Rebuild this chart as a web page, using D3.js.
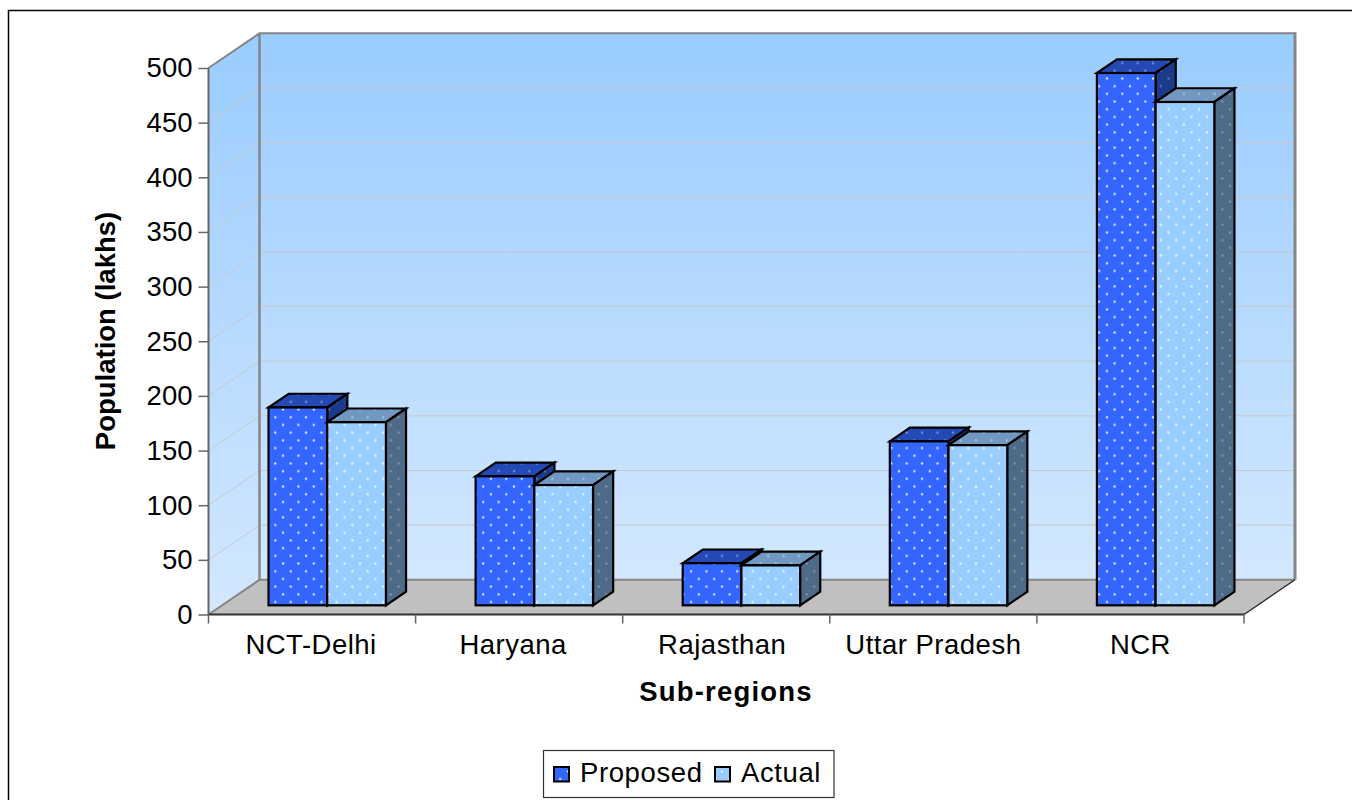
<!DOCTYPE html>
<html><head><meta charset="utf-8">
<script src="https://cdnjs.cloudflare.com/ajax/libs/d3/7.8.5/d3.min.js"></script>
<style>html,body{margin:0;padding:0;background:#fff;overflow:hidden}svg{display:block}text{font-family:"Liberation Sans",Arial,sans-serif;fill:#000}</style>
</head><body><div id="c"></div>
<script>
const categories=["NCT-Delhi","Haryana","Rajasthan","Uttar Pradesh","NCR"];
const proposed=[181,118,38.5,150,487];
const actual=[167.5,110,36.5,146.5,460.5];
const yTicks=[0,50,100,150,200,250,300,350,400,450,500];
const seriesNames=["Proposed","Actual"];
const labelShift=[-1,-6,-4,0,0];

const W=1352,H=800;
const svg=d3.select("#c").append("svg").attr("width",W).attr("height",H);
const defs=svg.append("defs");
const x=d3.scaleBand().domain(categories).range([208.5,1244]);
const y=d3.scaleLinear().domain([0,500]).range([614.5,68]);
const dep=[51,-34.7];
const P=(px,py,t)=>[px+dep[0]*t,py+dep[1]*t];
const poly=(pts)=>pts.map(p=>p.join(",")).join(" ");

function grad(id,c1,c2){const g=defs.append("linearGradient").attr("id",id).attr("x1",0).attr("y1",0).attr("x2",0).attr("y2",1);
 g.append("stop").attr("offset",0).attr("stop-color",c1);g.append("stop").attr("offset",1).attr("stop-color",c2);}
grad("wall","#99ccff","#d3e8ff");
function dots(id,color,op){const p=defs.append("pattern").attr("id",id).attr("patternUnits","userSpaceOnUse").attr("width",15.4).attr("height",15.4);
 p.append("rect").attr("width",15.4).attr("height",15.4).attr("fill",color);
 [[13.5,1.5],[5.8,9.2]].forEach(d=>p.append("circle").attr("cx",d[0]).attr("cy",d[1]).attr("r",1.15).attr("fill","#fff").attr("opacity",op));}
dots("pFront","#3366ff",.85);dots("aFront","#99ccff",.8);
dots("pTop","#2449b5",.4);dots("aTop","#7198c0",.4);
dots("pSide","#1c3a8c",.3);dots("aSide","#4d6a88",.3);

// frame: top and left rules only
svg.append("path").attr("d",`M8.5,${H}V10.5H${W}`).attr("fill","none").attr("stroke","#000").attr("stroke-width",1.5);

const x0=x.range()[0],x1=x.range()[1],y0=y(0),yT=y(500);
svg.append("polygon").attr("points",poly([[x0,y0],P(x0,y0,1),P(x0,yT,1),[x0,yT]])).attr("fill","url(#wall)");
svg.append("polygon").attr("points",poly([P(x0,yT,1),P(x1,yT,1),P(x1,y0,1),P(x0,y0,1)])).attr("fill","url(#wall)");
svg.append("polygon").attr("points",poly([[x0,y0],[x1,y0],P(x1,y0,1),P(x0,y0,1)])).attr("fill","#c0c0c0");

yTicks.filter(d=>d>0&&d<500).forEach(d=>{
 const a=[x0,y(d)],b=P(x0,y(d),1),c=P(x1,y(d),1);
 svg.append("polyline").attr("points",poly([a,b,c])).attr("fill","none").attr("stroke","#c8c8c8").attr("stroke-width",1);
});
// wall frame
const frame="#868686";
svg.append("polyline").attr("points",poly([[x0,yT],P(x0,yT,1),P(x1,yT,1)])).attr("fill","none").attr("stroke",frame).attr("stroke-width",2);
svg.append("line").attr("x1",P(x1,yT,1)[0]).attr("y1",P(x1,yT,1)[1]-1).attr("x2",P(x1,y0,1)[0]).attr("y2",P(x1,y0,1)[1]).attr("stroke",frame).attr("stroke-width",3);
svg.append("line").attr("x1",P(x0,yT,1)[0]).attr("y1",P(x0,yT,1)[1]).attr("x2",P(x0,y0,1)[0]).attr("y2",P(x0,y0,1)[1]).attr("stroke",frame).attr("stroke-width",2.5);
svg.append("polyline").attr("points",poly([[x0,y0],P(x0,y0,1),P(x1,y0,1)])).attr("fill","none").attr("stroke",frame).attr("stroke-width",2);
svg.append("line").attr("x1",x1).attr("y1",y0).attr("x2",P(x1,y0,1)[0]).attr("y2",P(x1,y0,1)[1]).attr("stroke","#222").attr("stroke-width",1.3);

// axes
const axisY=d3.axisLeft(y).tickValues(yTicks).tickSize(10).tickPadding(6);
const gy=svg.append("g").attr("transform",`translate(${x0},0)`).call(axisY);
gy.selectAll("text").attr("font-size",27.5).attr("dy","0.32em");
gy.selectAll("line").attr("stroke","#666").attr("stroke-width",1.5);
gy.select("path").attr("stroke","#666").attr("stroke-width",2).attr("d",`M0,${yT}V${y0}`);
const axisX=d3.axisBottom(x).tickSize(0).tickPadding(0);
const gx=svg.append("g").attr("transform",`translate(0,${y0})`).call(axisX);
gx.select("path").attr("stroke","#333").attr("stroke-width",2).attr("d",`M${x0},0H${x1}`);
gx.selectAll("text").attr("font-size",27.5).attr("letter-spacing",0.5).attr("y",39).attr("dy",0).attr("dx",(d,i)=>labelShift[i]);
svg.append("g").selectAll("line").data(d3.range(categories.length+1)).join("line")
 .attr("x1",i=>x0+i*x.step()).attr("x2",i=>x0+i*x.step()).attr("y1",y0).attr("y2",y0+9).attr("stroke","#666").attr("stroke-width",1.5);

// bars
const tA=0.265,tB=0.66,bw=58.7;
const bar=(g,px,v,w,front,top,side)=>{
 const base=P(px,y(0),tA),topY=base[1]-(y(0)-y(v));
 const bx=base[0],by=base[1];
 const dx=dep[0]*(tB-tA),dy=dep[1]*(tB-tA);
 g.append("polygon").attr("points",poly([[bx,topY],[bx+dx,topY+dy],[bx+w+dx,topY+dy],[bx+w,topY]])).attr("fill",`url(#${top})`);
 g.append("polygon").attr("points",poly([[bx+w,topY],[bx+w+dx,topY+dy],[bx+w+dx,by+dy],[bx+w,by]])).attr("fill",`url(#${side})`);
 g.append("rect").attr("x",bx).attr("y",topY).attr("width",w).attr("height",by-topY).attr("fill",`url(#${front})`);
 g.selectAll("polygon,rect").attr("stroke","#000").attr("stroke-width",2.2).attr("stroke-linejoin","miter");
};
categories.forEach((c,i)=>{
 const left=x(c)+46.5;
 bar(svg.append("g"),left,proposed[i],bw,"pFront","pTop","pSide");
 bar(svg.append("g"),left+bw,actual[i],bw,"aFront","aTop","aSide");
});

svg.append("text").attr("transform","translate(115,331) rotate(-90)").attr("text-anchor","middle").attr("font-size",27.5).attr("font-weight","bold").text("Population (lakhs)");
svg.append("text").attr("x",726).attr("y",701).attr("text-anchor","middle").attr("font-size",27.5).attr("font-weight","bold").attr("letter-spacing",1.2).text("Sub-regions");

// legend
svg.append("rect").attr("x",543.5).attr("y",750.5).attr("width",290.5).attr("height",47).attr("fill","#fff").attr("stroke","#333").attr("stroke-width",1.2);
const lg=[{x:554,fill:"pFront",tx:580,n:seriesNames[0]},{x:715,fill:"aFront",tx:741,n:seriesNames[1]}];
lg.forEach(l=>{
 svg.append("rect").attr("x",l.x).attr("y",767).attr("width",15).attr("height",14.5).attr("fill",`url(#${l.fill})`).attr("stroke","#000").attr("stroke-width",2);
 svg.append("text").attr("x",l.tx).attr("y",782).attr("font-size",27.5).attr("letter-spacing",0.6).text(l.n);
});
</script></body></html>
